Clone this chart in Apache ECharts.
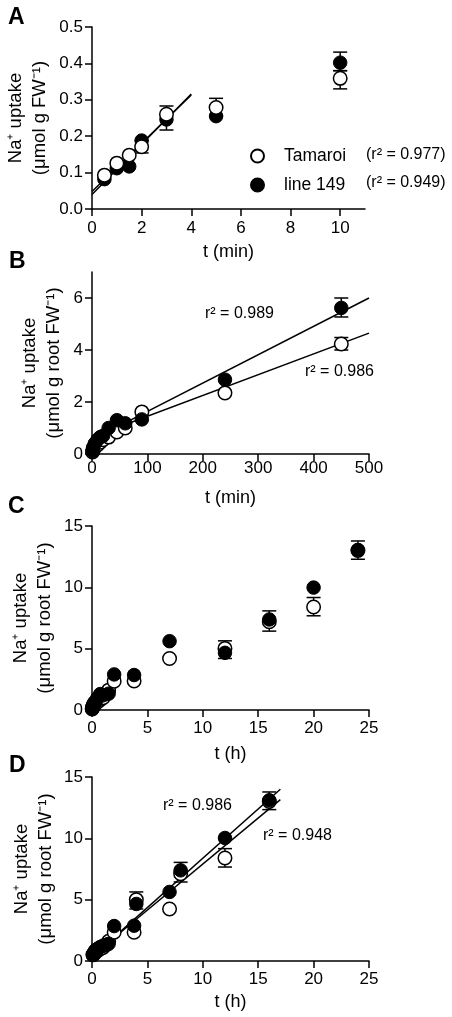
<!DOCTYPE html>
<html>
<head>
<meta charset="utf-8">
<script src="https://cdn.jsdelivr.net/npm/echarts@6/dist/echarts.min.js"></script>
<style>
html,body{margin:0;padding:0;background:#fff;}
#chart{width:452px;height:1017px;}
</style>
</head>
<body>
<div id="chart"></div>
<script>
// ---------- Panel A (t in min) ----------
const aTime      = [0.5, 1, 1.5, 2, 3, 5, 10];
const aTamaroi   = [0.093, 0.126, 0.148, 0.171, 0.26, 0.279, 0.359];
const aLine149   = [0.082, 0.112, 0.117, 0.188, 0.246, 0.255, 0.402];
const aErr       = [[2,0.154,0.188],[3,0.217,0.283],[5,0.256,0.304],[10,0.33,0.38],[10,0.38,0.431]];
const aFitTamaroi = [[0,0.048],[4,0.313]];
const aFitLine149 = [[0,0.040],[4,0.316]];
const aXTicks = [0,2,4,6,8,10];

// ---------- Panel B (t in min) ----------
const bTime      = [1, 2, 5, 10, 15, 20, 30, 45, 60, 90, 240, 450];
const bTamaroi   = [0.08, 0.15, 0.25, 0.35, 0.45, 0.55, 0.65, 0.85, 1.0, 1.62, 2.35, 4.23];
const bLine149   = [0.12, 0.25, 0.4, 0.55, 0.65, 0.7, 1.0, 1.3, 1.18, 1.33, 2.86, 5.62];
const bErr       = [[450,4.0,4.48],[450,5.27,6.0]];
const bFitTamaroi = [[5,0.69],[500,4.65]];
const bFitLine149 = [[5,0.60],[500,6.0]];
const bYTicks = [0,2,4,6];

// ---------- Panel C (t in h) ----------
const cTime      = [0.017, 0.033, 0.083, 0.167, 0.25, 0.333, 0.5, 0.75, 1, 1.5, 2, 3.8, 7, 12, 16, 20, 24];
const cTamaroi   = [0.08, 0.15, 0.25, 0.35, 0.45, 0.55, 0.65, 0.85, 1.0, 1.62, 2.35, 2.36, 4.2, 5.02, 7.19, 8.4, 13.0];
const cLine149   = [0.12, 0.25, 0.4, 0.55, 0.65, 0.7, 1.0, 1.3, 1.2, 1.33, 2.9, 2.85, 5.61, 4.66, 7.38, 9.98, 13.05];
const cErr       = [[12,4.2,5.64],[16,6.43,8.08],[20,7.68,9.17],[24,12.29,13.78]];

// ---------- Panel D (t in h) ----------
const dTime      = [0.083, 0.167, 0.25, 0.333, 0.5, 0.75, 1, 1.25, 1.5, 2, 3.8, 4, 7, 8, 12, 16];
const dTamaroi   = [0.5, 0.55, 0.65, 0.75, 0.85, 1.0, 1.1, 1.3, 1.6, 2.34, 2.34, 5.0, 4.24, 7.12, 8.4, 13.0];
const dLine149   = [0.55, 0.65, 0.8, 0.9, 1.0, 1.15, 1.25, 1.3, 1.4, 2.85, 2.88, 4.65, 5.63, 7.39, 10.03, 13.1];
const dErr       = [[4,4.24,5.63],[8,6.44,8.04],[12,7.66,9.16],[16,12.34,13.78]];
const dFitTamaroi = [[0.2,0.55],[17,13.15]];
const dFitLine149 = [[0.2,0.50],[17,14.0]];

const FONT = '"Liberation Sans", Arial, Helvetica, sans-serif';
const yName = 'Na\u207A uptake\n(\u03BCmol g FW\u207B\u00B9)';
const yNameRoot = 'Na\u207A uptake\n(\u03BCmol g root FW\u207B\u00B9)';

function pairs(xs, ys){ return xs.map((x,i)=>[x, ys[i]]); }

const lineStyle = {color:'#000', width:1.5};

function xAxis(gi, max, interval, ticks, name, gap, margin){
  return {
    gridIndex: gi, type:'value', min:0, max:max, interval:interval,
    name:name, nameLocation:'middle', nameGap:gap, nameMoveOverlap:false,
    nameTextStyle:{fontSize:18, color:'#000', fontFamily:FONT},
    axisLine:{show:true, onZero:false, lineStyle:lineStyle},
    axisTick:{show:true, length:7, lineStyle:lineStyle, customValues:ticks},
    axisLabel:{show:true, fontSize:17, color:'#000', fontFamily:FONT, margin:margin, customValues:ticks},
    splitLine:{show:false}
  };
}
function yAxis(gi, max, interval, ticks, name, gap, fmt){
  return {
    gridIndex: gi, type:'value', min:0, max:max, interval:interval,
    name:name, nameLocation:'middle', nameGap:gap, nameRotate:90, nameMoveOverlap:false,
    nameTextStyle:{fontSize:18.5, color:'#000', fontFamily:FONT, lineHeight:24},
    axisLine:{show:true, onZero:false, lineStyle:lineStyle},
    axisTick:{show:true, length:7, lineStyle:lineStyle, customValues:ticks},
    axisLabel:{show:true, fontSize:17, color:'#000', fontFamily:FONT, margin:9, customValues:ticks,
               formatter: fmt || (v=>String(v))},
    splitLine:{show:false}
  };
}

function errSeries(gi, data){
  return {
    type:'custom', name:'err'+gi, xAxisIndex:gi, yAxisIndex:gi, z:2,
    data:data, encode:{x:0, y:[1,2]},
    renderItem:function(params, api){
      const x = api.value(0), lo = api.value(1), hi = api.value(2);
      const p1 = api.coord([x, lo]), p2 = api.coord([x, hi]);
      const w = 7;
      const st = {stroke:'#000', lineWidth:1.5};
      return {type:'group', children:[
        {type:'line', shape:{x1:p1[0], y1:p1[1], x2:p2[0], y2:p2[1]}, style:st},
        {type:'line', shape:{x1:p1[0]-w, y1:p1[1], x2:p1[0]+w, y2:p1[1]}, style:st},
        {type:'line', shape:{x1:p2[0]-w, y1:p2[1], x2:p2[0]+w, y2:p2[1]}, style:st}
      ]};
    }
  };
}
function fitSeries(gi, data, n){
  return {type:'line', name:'fit'+gi+n, xAxisIndex:gi, yAxisIndex:gi, data:data, z:1,
          symbol:'none', lineStyle:{color:'#000', width:1.5}, silent:true};
}
function openSeries(gi, data){
  return {type:'scatter', name:'Tamaroi', xAxisIndex:gi, yAxisIndex:gi, data:data, z:3,
          symbol:'circle', symbolSize:13.5,
          itemStyle:{color:'#fff', borderColor:'#000', borderWidth:1.5, opacity:1}};
}
function filledSeries(gi, data){
  return {type:'scatter', name:'line 149', xAxisIndex:gi, yAxisIndex:gi, data:data, z:3,
          symbol:'circle', symbolSize:13.5,
          itemStyle:{color:'#000', borderColor:'#000', borderWidth:1, opacity:1}};
}

function txt(x, y, s){
  return {type:'text', left:x, top:y, style:{text:s, fontSize:16, fontFamily:FONT, fill:'#000'}};
}
function letter(x, y, s){
  return {type:'text', left:x, top:y, style:{text:s, fontSize:23, fontWeight:'bold', fontFamily:FONT, fill:'#000'}};
}

const gridBase = {outerBoundsMode:'none', containLabel:false};
const option = {
  animation:false,
  backgroundColor:'#fff',
  grid:[
    Object.assign({left:92, top:27, width:273, height:182}, gridBase),
    Object.assign({left:92, top:272, width:277, height:182}, gridBase),
    Object.assign({left:92, top:526, width:277, height:184}, gridBase),
    Object.assign({left:92, top:777, width:277, height:184}, gridBase)
  ],
  xAxis:[
    xAxis(0, 11, 2, aXTicks, 't (min)', 34, 11),
    xAxis(1, 500, 100, null, 't (min)', 35, 6),
    xAxis(2, 25, 5, null, 't (h)', 35, 10),
    xAxis(3, 25, 5, null, 't (h)', 32, 10)
  ],
  yAxis:[
    yAxis(0, 0.5, 0.1, null, yName, 40, v=>v.toFixed(1)),
    yAxis(1, 7, 2, bYTicks, yNameRoot, 26),
    yAxis(2, 15, 5, null, yNameRoot, 35),
    yAxis(3, 15, 5, null, yNameRoot, 34)
  ],
  legend:{
    data:['Tamaroi','line 149'], orient:'vertical', left:250, top:147, padding:0,
    itemWidth:13, itemHeight:13, itemGap:11, icon:'circle',
    selectedMode:false,
    textStyle:{fontSize:17.5, color:'#000', fontFamily:FONT, padding:[0,0,0,15]}
  },
  graphic:[
    letter(8, 6, 'A'),
    letter(9, 250, 'B'),
    letter(8, 495, 'C'),
    letter(9, 754, 'D'),
    txt(366, 147, '(r\u00B2 = 0.977)'),
    txt(366, 175, '(r\u00B2 = 0.949)'),
    txt(205, 306, 'r\u00B2 = 0.989'),
    txt(305, 364, 'r\u00B2 = 0.986'),
    txt(163, 798, 'r\u00B2 = 0.986'),
    txt(263, 828, 'r\u00B2 = 0.948')
  ],
  series:[
    // Panel A
    fitSeries(0, aFitTamaroi, 'T'), fitSeries(0, aFitLine149, 'L'),
    errSeries(0, aErr),
    filledSeries(0, pairs(aTime, aLine149)),
    openSeries(0, pairs(aTime, aTamaroi)),
    // Panel B
    fitSeries(1, bFitTamaroi, 'T'), fitSeries(1, bFitLine149, 'L'),
    errSeries(1, bErr),
    openSeries(1, pairs(bTime, bTamaroi)),
    filledSeries(1, pairs(bTime, bLine149)),
    // Panel C
    errSeries(2, cErr),
    openSeries(2, pairs(cTime, cTamaroi)),
    filledSeries(2, pairs(cTime, cLine149)),
    // Panel D
    fitSeries(3, dFitTamaroi, 'T'), fitSeries(3, dFitLine149, 'L'),
    errSeries(3, dErr),
    openSeries(3, pairs(dTime, dTamaroi)),
    filledSeries(3, pairs(dTime, dLine149))
  ]
};

const chart = echarts.init(document.getElementById('chart'), null, {renderer:'canvas'});
chart.setOption(option);
</script>
</body>
</html>
